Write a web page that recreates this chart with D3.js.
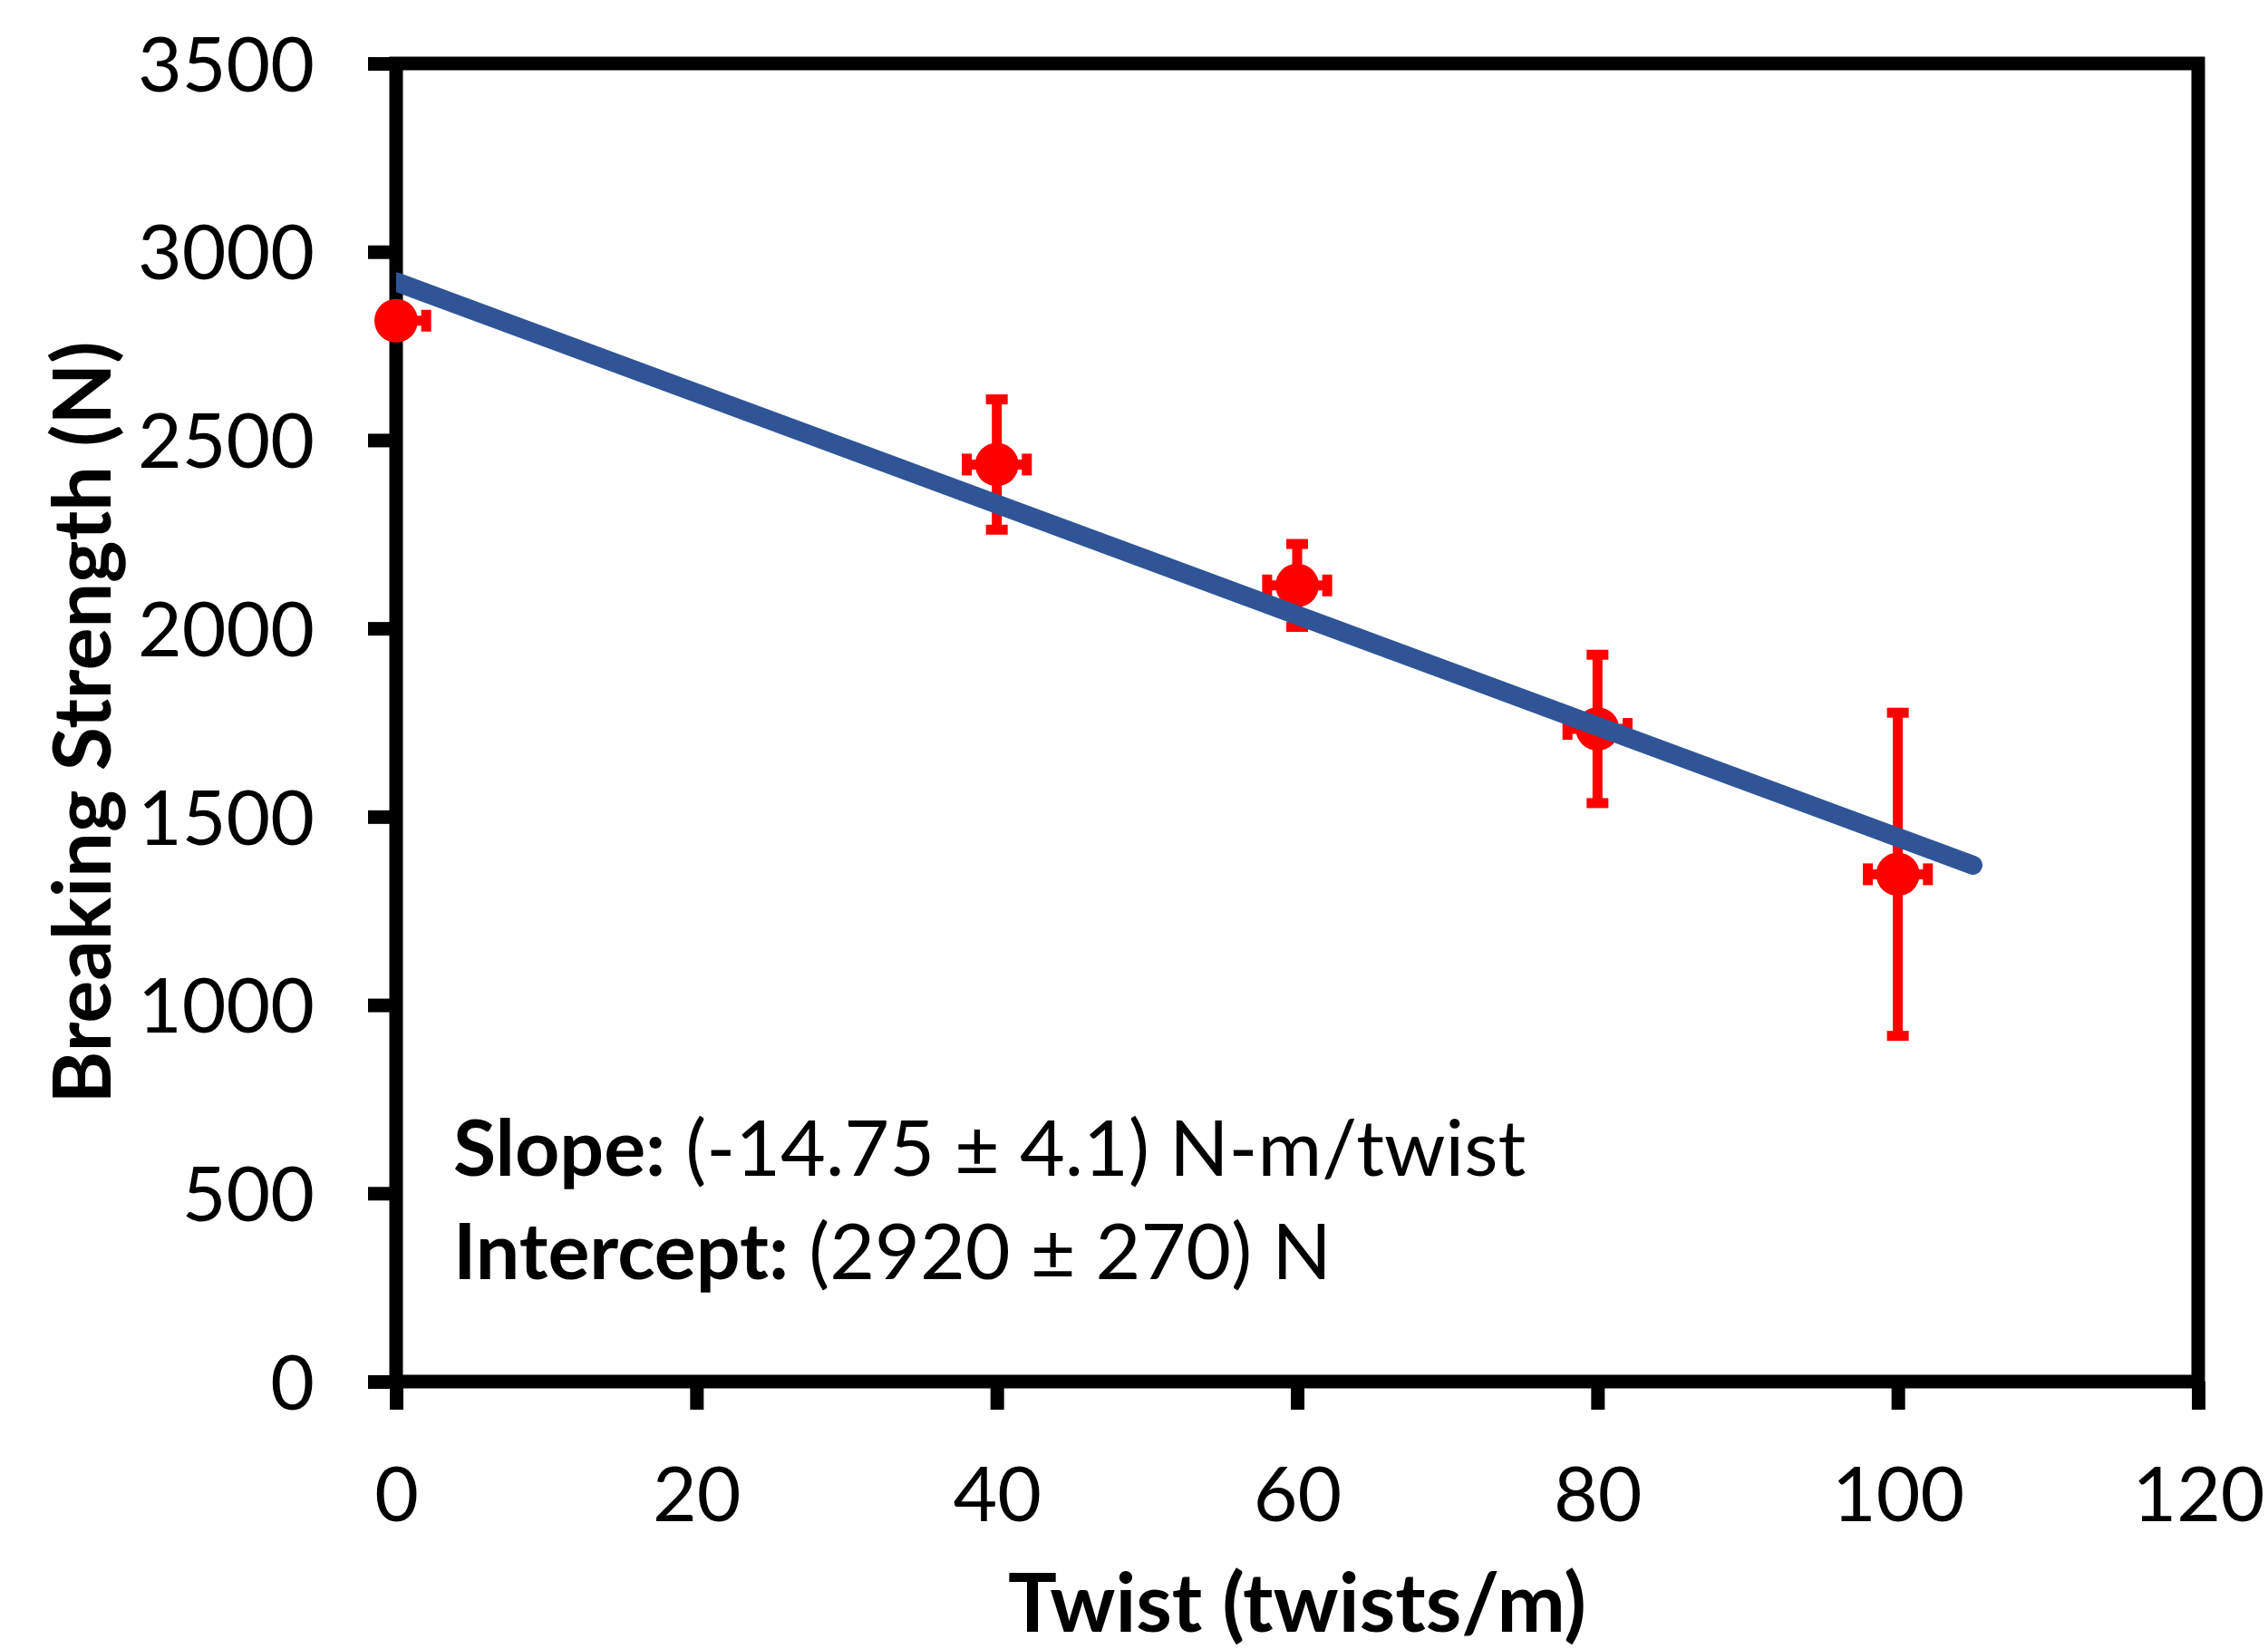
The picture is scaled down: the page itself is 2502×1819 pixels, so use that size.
<!DOCTYPE html>
<html>
<head>
<meta charset="utf-8">
<script src="https://cdn.jsdelivr.net/npm/d3@7"></script>
<style>
  body { margin: 0; background: #fff; }
  text { font-family: Lato, "Open Sans", sans-serif; fill: #000; }
</style>
</head>
<body>
<div id="canvas"></div>
<script>
// data
const twist = [0, 40, 60, 80, 100];
const strength = [2817, 2435, 2114, 1733, 1347];
const strengthErr = [20, 173, 110, 197, 429];
const twistErr = [2, 2, 2, 2, 2];

const fitSlope = -14.75;
const fitIntercept = 2920;
const fitRange = [0, 105];

const xTicks = [0, 20, 40, 60, 80, 100, 120];
const yTicks = [0, 500, 1000, 1500, 2000, 2500, 3000, 3500];

const W = 2502, H = 1819;
const margin = { top: 70, right: 77, bottom: 295, left: 437 },
    width = W - margin.left - margin.right,
    height = H - margin.top - margin.bottom;

const svg = d3.select("#canvas")
    .append("svg")
    .attr("width", W)
    .attr("height", H);

const g = svg.append("g")
    .attr("transform", `translate(${margin.left},${margin.top})`);

const x = d3.scaleLinear().domain([0, 120]).range([0, width]);
const y = d3.scaleLinear().domain([0, 3500]).range([height, 0]);

const axisStroke = 15;
const fontSize = 84;

// clip to plot area (error bars and fit line stop at the y axis)
svg.append("defs").append("clipPath")
    .attr("id", "plotClip")
    .append("rect")
    .attr("x", 0).attr("y", -50)
    .attr("width", width + 50).attr("height", height + 100);

// Draw Y axis
const yAxis = g.append("g")
    .call(d3.axisLeft(y).tickValues(yTicks).tickFormat(d3.format("d"))
        .tickSize(31).tickSizeOuter(0).tickPadding(59));
yAxis.select(".domain").remove();
yAxis.selectAll("line").attr("stroke", "#000").attr("stroke-width", axisStroke);
yAxis.selectAll("text")
    .attr("font-size", fontSize)
    .attr("dy", "0.36em")
    .style("font-family", "Lato, sans-serif");

// Draw X axis
const xAxis = g.append("g")
    .attr("transform", `translate(0,${height})`)
    .call(d3.axisBottom(x).tickValues(xTicks).tickSize(31).tickSizeOuter(0));
xAxis.select(".domain").remove();
xAxis.selectAll("line").attr("stroke", "#000").attr("stroke-width", axisStroke);
xAxis.selectAll("text")
    .attr("font-size", fontSize)
    .attr("y", 154)
    .attr("dy", 0)
    .style("font-family", "Lato, sans-serif");

// frame box
g.append("rect")
    .attr("x", 0).attr("y", 0)
    .attr("width", width).attr("height", height)
    .attr("fill", "none")
    .attr("stroke", "#000")
    .attr("stroke-width", axisStroke);

const points = twist.map((t, i) => ({
    x: t, y: strength[i], ey: strengthErr[i], ex: twistErr[i]
}));

// error bars
const errG = g.append("g")
    .attr("clip-path", "url(#plotClip)")
    .attr("stroke", "#FF0000")
    .attr("stroke-width", 11);
const cap = 12;
points.forEach(d => {
    const cx = x(d.x), cy = y(d.y);
    errG.append("line")
        .attr("x1", cx).attr("x2", cx)
        .attr("y1", y(d.y + d.ey)).attr("y2", y(d.y - d.ey));
    errG.append("line")
        .attr("x1", cx - cap).attr("x2", cx + cap)
        .attr("y1", y(d.y + d.ey)).attr("y2", y(d.y + d.ey));
    errG.append("line")
        .attr("x1", cx - cap).attr("x2", cx + cap)
        .attr("y1", y(d.y - d.ey)).attr("y2", y(d.y - d.ey));
    errG.append("line")
        .attr("x1", x(d.x - d.ex)).attr("x2", x(d.x + d.ex))
        .attr("y1", cy).attr("y2", cy);
    errG.append("line")
        .attr("x1", x(d.x - d.ex)).attr("x2", x(d.x - d.ex))
        .attr("y1", cy - cap).attr("y2", cy + cap);
    errG.append("line")
        .attr("x1", x(d.x + d.ex)).attr("x2", x(d.x + d.ex))
        .attr("y1", cy - cap).attr("y2", cy + cap);
});

// markers
g.append("g")
    .selectAll("circle")
    .data(points)
    .enter()
    .append("circle")
    .attr("cx", d => x(d.x))
    .attr("cy", d => y(d.y))
    .attr("r", 24)
    .attr("fill", "#FF0000");

// linear fit line, on top
const fitLine = d3.line()
    .x(d => x(d))
    .y(d => y(fitIntercept + fitSlope * d));
g.append("path")
    .datum(fitRange)
    .attr("clip-path", "url(#plotClip)")
    .attr("d", fitLine)
    .attr("fill", "none")
    .attr("stroke", "#2F5597")
    .attr("stroke-width", 21)
    .attr("stroke-linecap", "round");

// fit result text
const note = svg.append("g").attr("font-size", 86);
const l1 = note.append("text").attr("x", 500).attr("y", 1297);
l1.append("tspan").attr("font-weight", "bold").text("Slope:");
l1.append("tspan").text(" (-14.75 ± 4.1) N-m/twist");
const l2 = note.append("text").attr("x", 500).attr("y", 1411);
l2.append("tspan").attr("font-weight", "bold").text("Intercept:");
l2.append("tspan").text(" (2920 ± 270) N");

// axis titles
svg.append("text")
    .attr("x", margin.left + width / 2)
    .attr("y", 1800)
    .attr("text-anchor", "middle")
    .attr("font-size", 90)
    .attr("font-weight", "bold")
    .text("Twist (twists/m)");

svg.append("text")
    .attr("transform", `translate(122,${margin.top + height / 2}) rotate(-90)`)
    .attr("text-anchor", "middle")
    .attr("font-size", 88)
    .attr("font-weight", "bold")
    .text("Breaking Strength (N)");
</script>
</body>
</html>
